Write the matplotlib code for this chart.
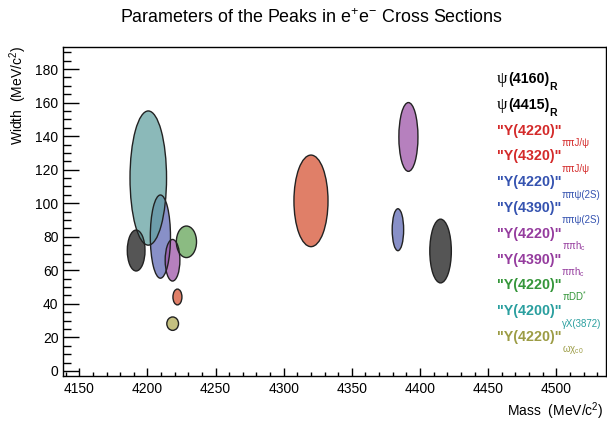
import matplotlib
matplotlib.use("Agg")
import matplotlib.pyplot as plt
from matplotlib.patches import Ellipse

plt.rcParams['font.family'] = ['Liberation Sans', 'DejaVu Sans']
plt.rcParams['mathtext.fontset'] = 'custom'
plt.rcParams['mathtext.rm'] = 'Liberation Sans'
plt.rcParams['mathtext.it'] = 'Liberation Sans:italic'
plt.rcParams['mathtext.bf'] = 'Liberation Sans:bold'

# mass, width and their errors (MeV/c^2)
nomes = ['psi(4160)_R', 'psi(4415)_R', 'Y(4220) ppJpsi', 'Y(4320) ppJpsi',
         'Y(4220) pppsi2S', 'Y(4390) pppsi2S', 'Y(4220) pphc', 'Y(4390) pphc',
         'Y(4220) piDD*', 'Y(4200) gX3872', 'Y(4220) wchic0']
massa = [4191.7, 4415.1, 4222.0, 4320.0, 4209.5, 4383.8, 4218.4, 4391.5, 4228.6, 4200.6, 4218.5]
erroMassa = [6.5, 7.9, 3.3, 12.5, 7.4, 4.2, 5.4, 7.0, 7.4, 13.4, 4.3]
largura = [71.8, 71.5, 44.1, 101.4, 80.1, 84.2, 66.0, 139.5, 77.0, 115.0, 28.2]
erroLargura = [12.2, 19.0, 4.7, 27.3, 24.8, 12.5, 12.4, 20.5, 9.4, 40.0, 4.0]

coresElipse = ['#1c1c1c', '#1c1c1c', '#d65436', '#d65436', '#606bb6', '#606bb6',
               '#9e56a8', '#9e56a8', '#64a458', '#64a2a2', '#b0ab56']

# legend: main text, subscript, text colour
legMain = ['(4160)', '(4415)', '"Y(4220)"', '"Y(4320)"', '"Y(4220)"', '"Y(4390)"',
           '"Y(4220)"', '"Y(4390)"', '"Y(4220)"', '"Y(4200)"', '"Y(4220)"']
legSub = ['R', 'R', 'ππJ/ψ', 'ππJ/ψ', 'ππψ(2S)', 'ππψ(2S)', 'ππh$_\\mathregular{c}$',
          'ππh$_\\mathregular{c}$', 'πDD$^{*}$', 'γX(3872)', 'ωχ$_\\mathregular{c0}$']
legCor = ['black', 'black', '#d42a2a', '#d42a2a', '#3553b0', '#3553b0',
          '#953c9e', '#953c9e', '#35963a', '#2a9f9f', '#9c9c45']

W, H = 607, 423
fig = plt.figure(figsize=(W / 100, H / 100), dpi=100)
ax = fig.add_axes([62.7 / W, 1 - 376 / H, (606 - 62.7) / W, (376 - 46.7) / H])

for i in range(len(massa)):
    e = Ellipse((massa[i], largura[i]), 2 * erroMassa[i], 2 * erroLargura[i],
                facecolor=coresElipse[i], alpha=0.75, edgecolor='none', zorder=2)
    ax.add_patch(e)
    e2 = Ellipse((massa[i], largura[i]), 2 * erroMassa[i], 2 * erroLargura[i],
                 facecolor='none', edgecolor='#222222', lw=1.0, zorder=3)
    ax.add_patch(e2)

ax.set_xlim(4137.8, 4536.5)
ax.set_ylim(-3, 193.3)
ax.set_xticks(range(4150, 4501, 50))
ax.set_xticks(range(4140, 4531, 10), minor=True)
ax.set_yticks(range(0, 181, 20))
ax.set_yticks(range(0, 191, 5), minor=True)
ax.tick_params(axis='both', which='both', direction='in', labelsize=10, width=1)
ax.tick_params(axis='y', which='major', length=11.5, pad=3)
ax.tick_params(axis='y', which='minor', length=5.8)
ax.tick_params(axis='x', which='major', length=6, pad=4)
ax.tick_params(axis='x', which='minor', length=3)
for s in ax.spines.values():
    s.set_linewidth(1.0)

fig.text(311 / W, 1 - 18 / H, 'Parameters of the Peaks in e$^{+}$e$^{-}$ Cross Sections',
         ha='center', va='center', fontsize=12.9)
fig.text(604 / W, 1 - 411 / H, 'Mass  (MeV/c$^{2}$)', ha='right', va='center', fontsize=10)
fig.text(18 / W, 1 - 46 / H, 'Width  (MeV/c$^{2}$)', ha='center', va='top',
         rotation=90, fontsize=10)

# legend
for i in range(len(legMain)):
    y = 1 - (79 + 25.8 * i) / H
    if i < 2:
        p = fig.text(497 / W, y, 'ψ', ha='left', va='center', fontsize=12,
                     family=['Liberation Serif', 'DejaVu Serif'])
        t = ax.annotate(legMain[i], xy=(1, 0.5), xycoords=p, xytext=(0.3, 0),
                        textcoords='offset points', ha='left', va='center',
                        fontsize=10.3, fontweight='bold', annotation_clip=False)
        ax.annotate(legSub[i], xy=(1, 0), xycoords=t, xytext=(0.3, -3),
                    textcoords='offset points', ha='left', va='baseline',
                    fontsize=7.5, fontweight='bold', annotation_clip=False)
    else:
        t = fig.text(497 / W, y, legMain[i], ha='left', va='center', fontsize=10.3,
                     fontweight='bold', color=legCor[i])
        ax.annotate(legSub[i], xy=(1, 0), xycoords=t, xytext=(0, -6),
                    textcoords='offset points', ha='left', va='baseline',
                    fontsize=7, color=legCor[i], annotation_clip=False)

fig.savefig('out.png', dpi=100)
